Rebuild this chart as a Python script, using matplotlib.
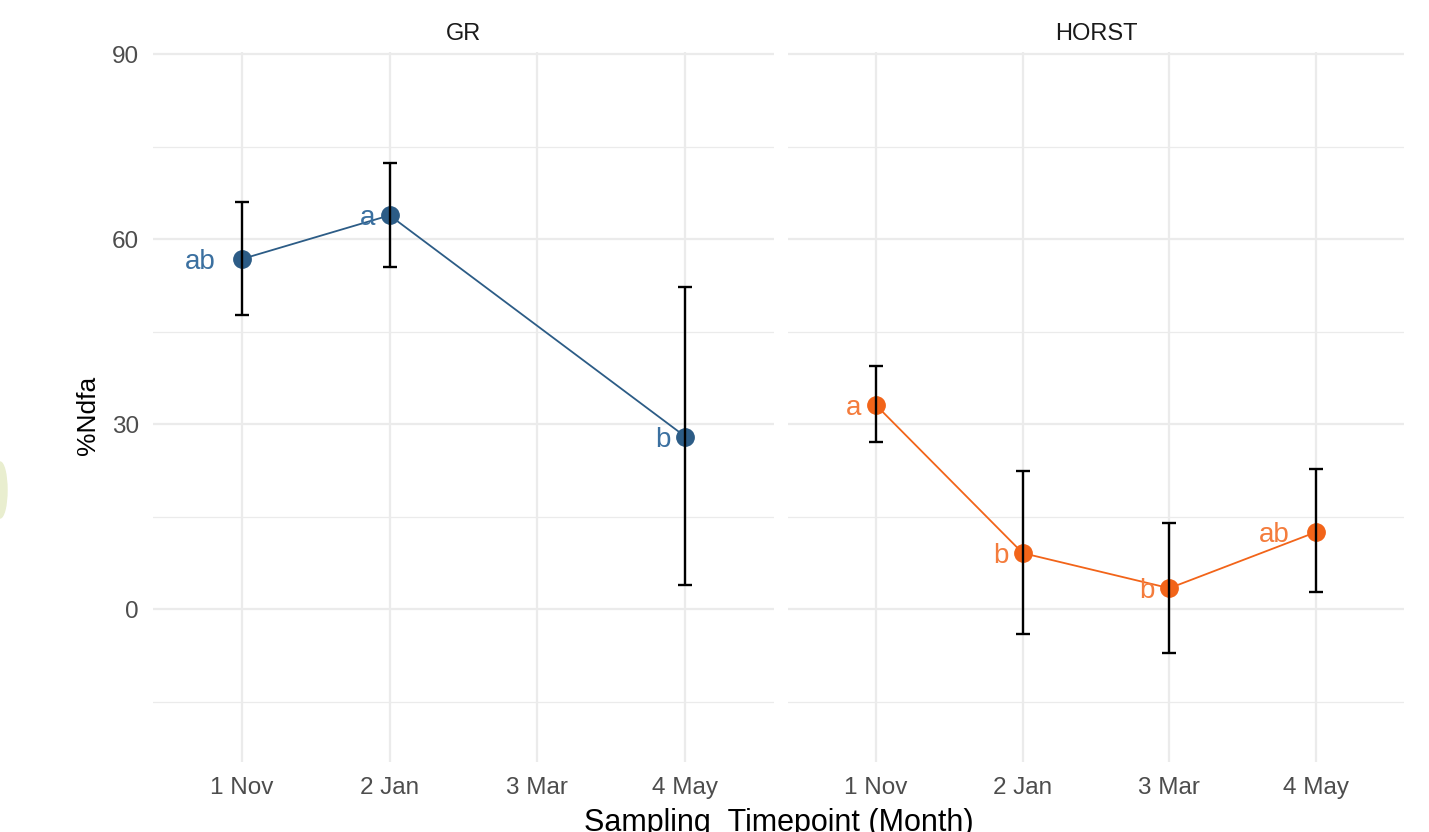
import matplotlib
matplotlib.use("Agg")
import matplotlib.pyplot as plt
from matplotlib.patches import Ellipse

plt.rcParams['font.family'] = ['Liberation Sans', 'DejaVu Sans']

months = ['1 Nov', '2 Jan', '3 Mar', '4 May']

# GR site (no value for 3 Mar)
gr_x = [1, 2, 4]
gr_mean = [56.8, 63.9, 28.0]
gr_lo = [47.7, 55.5, 3.9]
gr_hi = [66.0, 72.4, 52.3]
gr_lab = ['ab', 'a', 'b']

# HORST site
ho_x = [1, 2, 3, 4]
ho_mean = [33.1, 9.1, 3.4, 12.5]
ho_lo = [27.1, -4.0, -7.1, 2.8]
ho_hi = [39.4, 22.4, 13.9, 22.7]
ho_lab = ['a', 'b', 'b', 'ab']

panels = [
    ('GR', gr_x, gr_mean, gr_lo, gr_hi, gr_lab, '#2c5c86', '#3b70a0'),
    ('HORST', ho_x, ho_mean, ho_lo, ho_hi, ho_lab, '#f26419', '#f47c3c'),
]

fig = plt.figure(figsize=(14.29, 8.32), dpi=100)
W, H = 1429., 832.
boxes = [(153, 774), (788, 1404)]
top, bot = 52, 762

for (name, xs, m, lo, hi, labs, col, lcol), (x0, x1) in zip(panels, boxes):
    ax = fig.add_axes([x0 / W, 1 - bot / H, (x1 - x0) / W, (bot - top) / H])
    ax.set_xlim(0.4, 4.6)
    ax.set_ylim(-24.8, 90.4)
    for s in ax.spines.values():
        s.set_visible(False)
    ax.set_yticks([0, 30, 60, 90])
    ax.set_yticks([-15, 15, 45, 75], minor=True)
    ax.set_xticks([1, 2, 3, 4])
    ax.set_xticklabels(months)
    ax.grid(True, which='major', color='#ebebeb', lw=1.6)
    ax.yaxis.grid(True, which='minor', color='#ebebeb', lw=0.9)
    ax.set_axisbelow(True)
    ax.tick_params(which='both', length=0, labelsize=17.5, colors='#4d4d4d')
    ax.tick_params(axis='y', pad=10)
    ax.tick_params(axis='x', pad=11)
    if name != 'GR':
        ax.tick_params(axis='y', labelleft=False)

    ax.plot(xs, m, color=col, lw=1.3, zorder=2)
    ax.plot(xs, m, 'o', color=col, ms=12.5, zorder=3)
    err = [[a - b for a, b in zip(m, lo)], [b - a for a, b in zip(m, hi)]]
    ax.errorbar(xs, m, yerr=err, fmt='none', ecolor='black', elinewidth=1.7,
                capsize=5, capthick=1.7, zorder=4)
    for x, y, t in zip(xs, m, labs):
        ax.annotate(t, (x, y), xytext=(-(3 + 11.5 * len(t)), -3),
                    textcoords='offset pixels', ha='right', va='center',
                    fontsize=20, color=lcol, zorder=5)
    ax.set_title(name, fontsize=17, color='#1a1a1a', pad=9)

fig.text(88 / W, 1 - 415 / H, '%Ndfa', rotation=90, ha='center', va='center',
         fontsize=19, color='black')
fig.text(779 / W, 1 - 808 / H, 'Sampling_Timepoint (Month)', ha='center',
         va='top', fontsize=22, color='black')

# light blob on the left edge of the screenshot
fig.patches.append(Ellipse((0.0, 1 - 490 / H), 14 / W, 56 / H,
                           transform=fig.transFigure, color='#e9eecf',
                           zorder=0))

fig.savefig('out.png', dpi=100)
